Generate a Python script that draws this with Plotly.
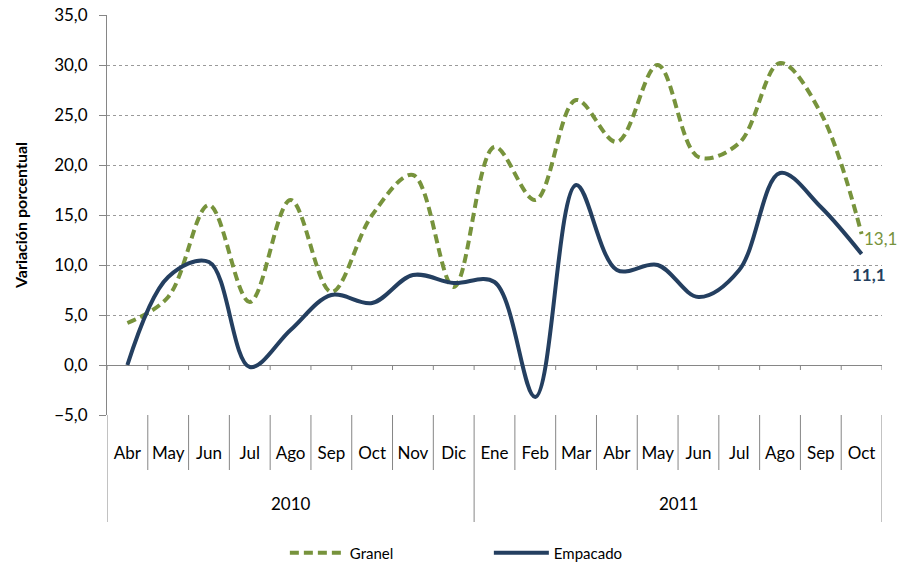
import plotly.graph_objects as go

# months Apr 2010 .. Oct 2011
months = ["Abr", "May", "Jun", "Jul", "Ago", "Sep", "Oct", "Nov", "Dic",
          "Ene", "Feb", "Mar", "Abr", "May", "Jun", "Jul", "Ago", "Sep", "Oct"]
years = ["2010", "2011"]
months_per_year = [9, 10]

granel = [4.2, 6.8, 16.0, 6.3, 16.5, 7.3, 15.0, 19.0, 7.8,
          21.8, 16.5, 26.5, 22.3, 30.0, 20.8, 22.2, 30.2, 25.2, 13.1]
empacado = [0.0, 8.8, 10.3, -0.2, 3.5, 7.0, 6.2, 9.0, 8.2,
            8.3, -3.2, 18.0, 9.5, 10.0, 6.8, 9.5, 19.2, 15.8, 11.1]

GREEN = "#77933C"
NAVY = "#243F60"
AXIS = "#868686"
FONT = "Lato"

x = list(range(len(months)))


def fmt(v):
    return f"{v:.1f}".replace(".", ",")


fig = go.Figure()
fig.add_trace(go.Scatter(
    x=x, y=granel, name="Granel", mode="lines",
    line=dict(color=GREEN, width=4, dash="9px,5px", shape="spline", smoothing=1),
))
fig.add_trace(go.Scatter(
    x=x, y=empacado, name="Empacado", mode="lines",
    line=dict(color=NAVY, width=4, shape="spline", smoothing=1),
))

shapes = []
# small ticks hanging from the zero axis
for i in range(len(months) + 1):
    shapes.append(dict(type="line", xref="x", yref="y", x0=i - 0.5, x1=i - 0.5,
                       y0=0, y1=-0.5, line=dict(color=AXIS, width=1)))
# separators in the category table
bounds = [-0.5]
for n in months_per_year:
    bounds.append(bounds[-1] + n)
for i in range(len(months) + 1):
    b = i - 0.5
    long = b in bounds
    shapes.append(dict(type="line", xref="x", yref="paper", x0=b, x1=b,
                       y0=0, y1=-0.2675 if long else -0.1375,
                       line=dict(color=AXIS, width=1)))

annotations = []
for k, yr in enumerate(years):
    mid = (bounds[k] + bounds[k + 1]) / 2
    annotations.append(dict(x=mid, y=-0.22, xref="x", yref="paper", yanchor="middle",
                            text=yr, showarrow=False,
                            font=dict(size=17, family=FONT, color="#000")))
# data labels on the last month
annotations.append(dict(x=x[-1], y=granel[-1], xref="x", yref="y", text=fmt(granel[-1]),
                        showarrow=False, xanchor="left", yanchor="middle",
                        xshift=0, yshift=-4, font=dict(size=17, family=FONT, color=GREEN)))
annotations.append(dict(x=x[-1], y=empacado[-1], xref="x", yref="y",
                        text="<b>" + fmt(empacado[-1]) + "</b>",
                        showarrow=False, xanchor="center", yanchor="middle",
                        xshift=7, yshift=-20, font=dict(size=17, family=FONT, color=NAVY)))

fig.update_layout(
    width=900, height=564,
    margin=dict(l=107, r=18, t=15, b=149),
    paper_bgcolor="white", plot_bgcolor="white",
    separators=",.",
    font=dict(family=FONT, size=17, color="#000"),
    shapes=shapes, annotations=annotations,
    showlegend=True,
    legend=dict(orientation="h", x=0.2295, xanchor="left",
                yref="container", y=0.0195, yanchor="middle",
                font=dict(size=15, family=FONT), entrywidth=134, itemwidth=55),
    xaxis=dict(range=[-0.5, len(months) - 0.5], tickmode="array", tickvals=x, ticktext=months,
               showgrid=False, zeroline=False, showline=False, ticks="", automargin=False,
               ticklabelstandoff=26, tickfont=dict(size=17, family=FONT)),
    yaxis=dict(range=[-5, 35], dtick=5, tick0=-5, tickformat=".1f", automargin=False,
               showgrid=True, gridcolor="#9a9a9a", griddash="dot", gridwidth=1,
               zeroline=True, zerolinecolor=AXIS, zerolinewidth=1,
               showline=True, linecolor=AXIS, ticks="outside", ticklen=7, tickcolor=AXIS,
               ticklabelstandoff=8, tickfont=dict(size=17, family=FONT),
               title=dict(text="<b>Variación porcentual</b>", font=dict(size=16, family=FONT),
                          standoff=22)),
)

# drop the default 8px body margin so the figure sits at the page corner
fig.write_html("out.html", config={"displayModeBar": False},
               post_script="document.body.style.margin = '0';")
